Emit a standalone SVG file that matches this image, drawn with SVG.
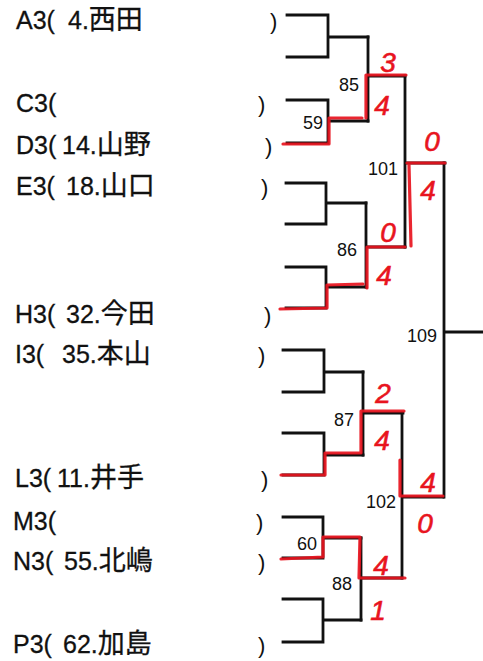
<svg xmlns="http://www.w3.org/2000/svg" width="483" height="661" viewBox="0 0 483 661">
<style>
.bg{fill:#fff}
.nm{font-family:"Liberation Sans","Noto Sans CJK JP",sans-serif;font-size:25px;fill:#111;stroke:#111;stroke-width:0.3}
.cj{font-size:27px}
.pr{font-family:"Liberation Sans",sans-serif;font-size:22px;fill:#111}
.lb{font-family:"Liberation Sans",sans-serif;font-size:18px;fill:#111}
.ln{fill:none;stroke:#111;stroke-width:2.8;stroke-linecap:square;stroke-linejoin:miter}
.rd{fill:none;stroke:#e8141e;stroke-width:3.2;stroke-linecap:round;stroke-linejoin:round;opacity:0.92}
.sc{font-family:"Liberation Sans",sans-serif;font-size:28px;font-style:italic;fill:#e8141e;stroke:#e8141e;stroke-width:0.6;text-anchor:middle}
</style>
<rect class="bg" x="0" y="0" width="483" height="661"/>

<g id="entries">
  <g id="A3"><text class="nm" x="16" y="29">A3( <tspan x="68">4.<tspan class="cj">西田</tspan></tspan></text><text class="pr" x="270" y="29">)</text></g>
  <g id="C3"><text class="nm" x="16" y="112">C3(</text><text class="pr" x="258" y="112">)</text></g>
  <g id="D3"><text class="nm" x="16" y="154">D3( <tspan x="62">14.<tspan class="cj">山野</tspan></tspan></text><text class="pr" x="265" y="154">)</text></g>
  <g id="E3"><text class="nm" x="16" y="195">E3( <tspan x="66">18.<tspan class="cj">山口</tspan></tspan></text><text class="pr" x="261" y="195">)</text></g>
  <g id="H3"><text class="nm" x="15" y="323">H3( <tspan x="66">32.<tspan class="cj">今田</tspan></tspan></text><text class="pr" x="264" y="323">)</text></g>
  <g id="I3"><text class="nm" x="15" y="363">I3( <tspan x="62">35.<tspan class="cj">本山</tspan></tspan></text><text class="pr" x="258" y="363">)</text></g>
  <g id="L3"><text class="nm" x="15" y="487">L3( <tspan x="57">11.<tspan class="cj">井手</tspan></tspan></text><text class="pr" x="261" y="487">)</text></g>
  <g id="M3"><text class="nm" x="13" y="530">M3(</text><text class="pr" x="256" y="530">)</text></g>
  <g id="N3"><text class="nm" x="13" y="570">N3( <tspan x="64">55.<tspan class="cj">北嶋</tspan></tspan></text><text class="pr" x="258" y="570">)</text></g>
  <g id="P3"><text class="nm" x="13" y="653">P3( <tspan x="63">62.<tspan class="cj">加島</tspan></tspan></text><text class="pr" x="258" y="653">)</text></g>
</g>

<g id="connectors">
  <path class="ln" d="M287,15 H328 V57 H287 M328,37 H368"/>
  <path class="ln" d="M287,100 H328 V143 H287 M328,121 H368"/>
  <path class="ln" d="M368,37 V121 M368,76 H405"/>
  <path class="ln" d="M286,183 H326 V224 H286 M326,203 H366"/>
  <path class="ln" d="M286,267 H326 V308 H286 M326,287 H366"/>
  <path class="ln" d="M366,203 V287 M366,247 H405"/>
  <path class="ln" d="M405,76 V247 M405,163 H445"/>
  <path class="ln" d="M283,350 H324 V392 H283 M324,372 H363"/>
  <path class="ln" d="M283,433 H324 V475 H283 M324,455 H363"/>
  <path class="ln" d="M363,372 V455 M363,413 H403"/>
  <path class="ln" d="M283,517 H323 V558 H283 M323,538 H361"/>
  <path class="ln" d="M283,599 H323 V642 H283 M323,620 H361"/>
  <path class="ln" d="M361,538 V620 M361,578 H402"/>
  <path class="ln" d="M402,413 V578 M402,497 H443"/>
  <path class="ln" d="M444,163 V497 M444,332 H483"/>
</g>

<g id="labels">
  <g id="m85"><text class="lb" x="339" y="91">85</text></g>
  <g id="m59"><text class="lb" x="303" y="129">59</text></g>
  <g id="m101"><text class="lb" x="368" y="175">101</text></g>
  <g id="m86"><text class="lb" x="337" y="256">86</text></g>
  <g id="m109"><text class="lb" x="407" y="342">109</text></g>
  <g id="m87"><text class="lb" x="334" y="426">87</text></g>
  <g id="m102"><text class="lb" x="366" y="508">102</text></g>
  <g id="m60"><text class="lb" x="297" y="550">60</text></g>
  <g id="m88"><text class="lb" x="332" y="590">88</text></g>
</g>

<g id="results">
  <path class="rd" d="M283,144 H329 V118 H362 M366,118 V75 H406"/>
  <path class="rd" d="M407,163 H445 M409,165 L411,246"/>
  <path class="rd" d="M280,309 L327,308 V285 L363,284 M367,288 V247 H405"/>
  <path class="rd" d="M281,475 H325 V453 H361 V411 H404"/>
  <path class="rd" d="M400,460 V496 H443"/>
  <path class="rd" d="M281,559 L323,557 V537 H360 L359,578 H405"/>
  <text class="sc" x="388" y="72">3</text>
  <text class="sc" x="382" y="115">4</text>
  <text class="sc" x="432" y="151">0</text>
  <text class="sc" x="428" y="200">4</text>
  <text class="sc" x="388" y="242">0</text>
  <text class="sc" x="384" y="285">4</text>
  <text class="sc" x="383" y="403">2</text>
  <text class="sc" x="382" y="450">4</text>
  <text class="sc" x="428" y="492">4</text>
  <text class="sc" x="425" y="533">0</text>
  <text class="sc" x="381" y="575">4</text>
  <text class="sc" x="378" y="620">1</text>
</g>
</svg>
